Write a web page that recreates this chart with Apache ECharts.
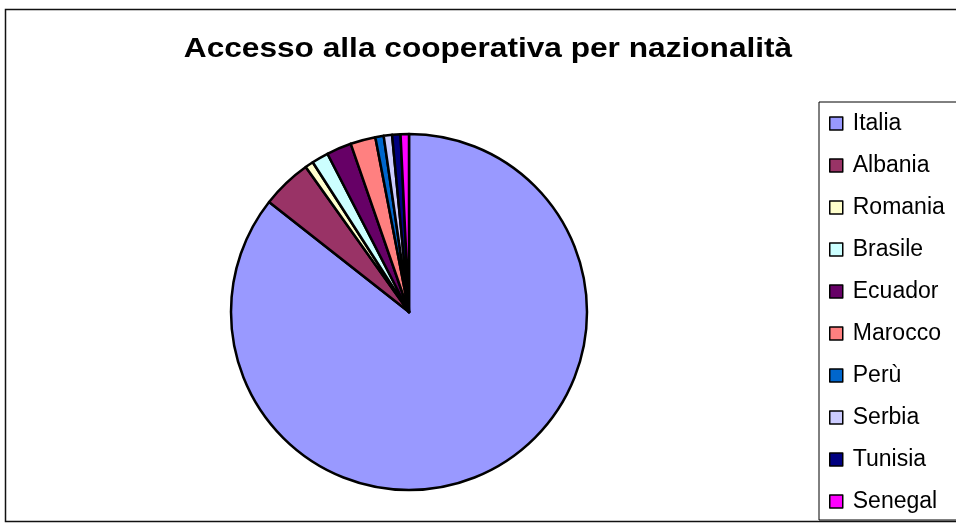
<!DOCTYPE html>
<html>
<head>
<meta charset="utf-8">
<script src="https://cdn.jsdelivr.net/npm/echarts@6/dist/echarts.min.js"></script>
<style>
  html, body { margin: 0; padding: 0; background: #fff; }
  #chart { width: 956px; height: 528px; }
</style>
</head>
<body>
<div id="chart"></div>
<script>
// Nationalities of people accessing the cooperative (counts)
const categories = ['Italia', 'Albania', 'Romania', 'Brasile', 'Ecuador', 'Marocco', 'Perù', 'Serbia', 'Tunisia', 'Senegal'];
const counts = [113, 6, 1, 2, 3, 3, 1, 1, 1, 1];
const sliceColors = ['#9999FF', '#993366', '#FFFFCC', '#CCFFFF', '#660066', '#FF8080', '#0066CC', '#CCCCFF', '#000080', '#FF00FF'];
const titleText = 'Accesso alla cooperativa per nazionalità';

const chart = echarts.init(document.getElementById('chart'), null, { renderer: 'canvas' });

const pieData = categories.map((name, i) => ({
  name: name,
  value: counts[i],
  itemStyle: { color: sliceColors[i] }
}));

chart.setOption({
  animation: false,
  backgroundColor: '#ffffff',
  graphic: [
    {
      type: 'rect',
      shape: { x: 5.5, y: 9.5, width: 1000, height: 512 },
      style: { fill: 'none', stroke: '#111', lineWidth: 1.5 },
      silent: true,
      z: 0
    },
    {
      type: 'text',
      x: 488,
      y: 49,
      scaleX: 1.13,
      originX: 0,
      style: {
        text: titleText,
        fontFamily: 'Liberation Sans, Arial, sans-serif',
        fontWeight: 'bold',
        fontSize: 28,
        fill: '#000',
        align: 'center',
        verticalAlign: 'middle'
      },
      z: 10
    }
  ],
  legend: {
    orient: 'vertical',
    left: 819,
    top: 102,
    padding: [10, 40, 7, 10],
    itemGap: 19,
    itemWidth: 13,
    itemHeight: 13,
    icon: 'rect',
    backgroundColor: '#fff',
    borderColor: '#000',
    borderWidth: 1,
    itemStyle: { borderColor: '#000', borderWidth: 1.5 },
    textStyle: {
      fontFamily: 'Liberation Sans, Arial, sans-serif',
      fontSize: 23,
      lineHeight: 23,
      color: '#000',
      padding: [0, 0, 0, 5]
    },
    data: categories
  },
  series: [
    {
      type: 'pie',
      center: [409, 312],
      radius: 178,
      startAngle: 90,
      clockwise: true,
      avoidLabelOverlap: false,
      label: { show: false },
      labelLine: { show: false },
      emphasis: { disabled: true },
      itemStyle: { borderColor: '#000', borderWidth: 2.5 },
      data: pieData
    }
  ]
});
</script>
</body>
</html>
